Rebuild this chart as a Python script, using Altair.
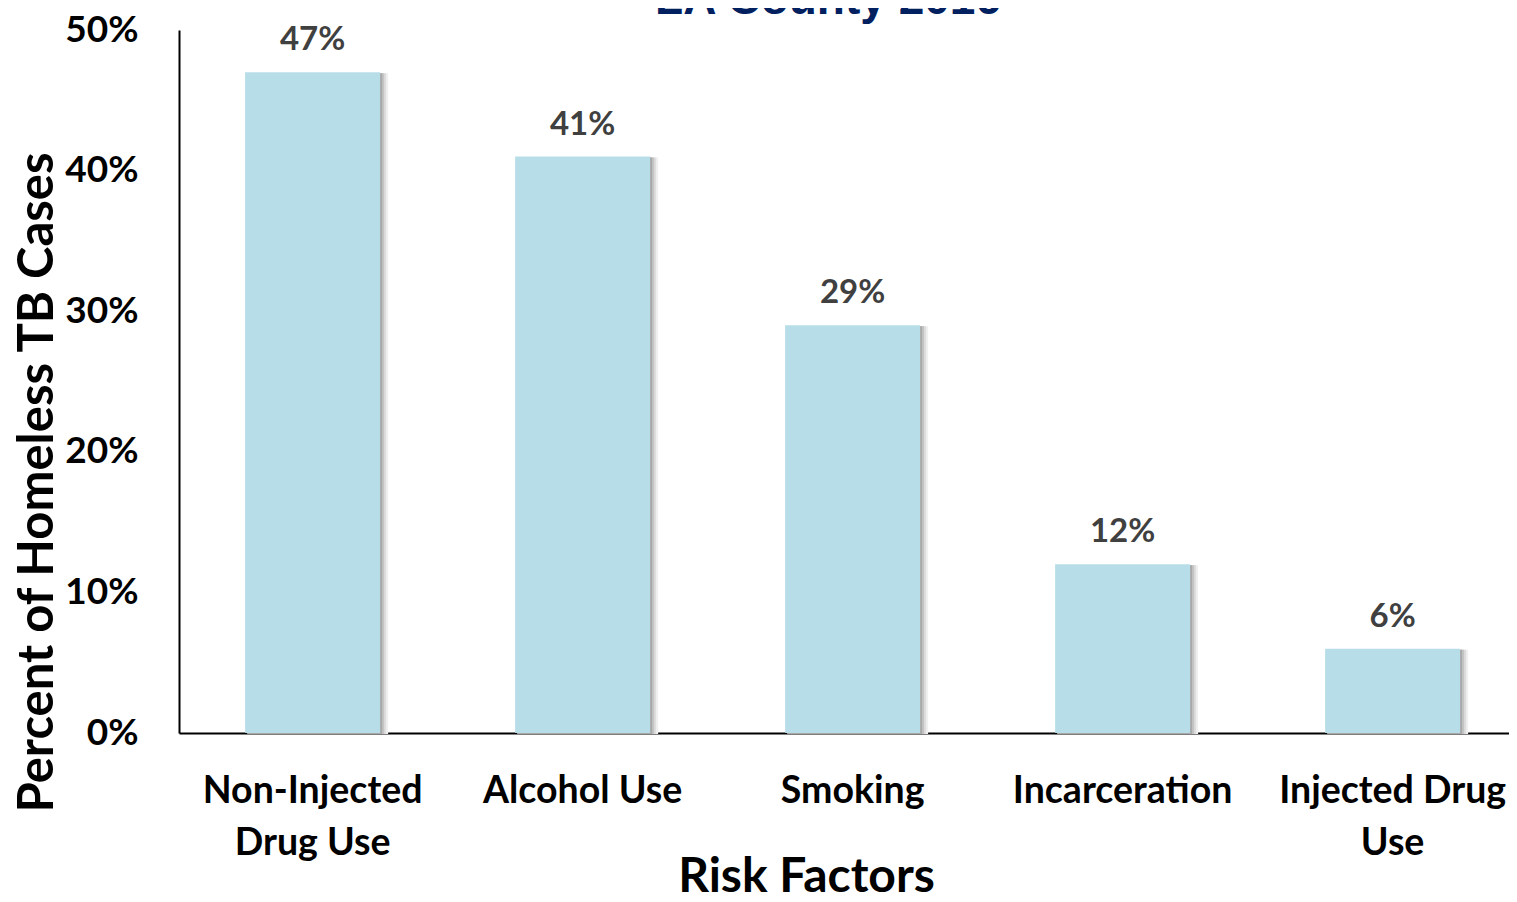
import altair as alt
import pandas as pd

categories = ["Non-Injected|Drug Use", "Alcohol Use", "Smoking", "Incarceration", "Injected Drug|Use"]
values = [0.47, 0.41, 0.29, 0.12, 0.06]
labels = ["47%", "41%", "29%", "12%", "6%"]
title_text = "LA County 2016"

df = pd.DataFrame({"cat": categories, "val": values, "lab": labels})

W, H = 1330, 703
FONT = "Lato"

x = alt.X("cat:N", sort=categories, title="Risk Factors",
          scale=alt.Scale(paddingInner=0.5, paddingOuter=0.213, align=0.575),
          axis=alt.Axis(labelExpr="split(datum.label, '|')", labelAngle=0,
                        labelFont=FONT, labelFontSize=37.5, labelFontWeight="bold",
                        labelColor="black", labelPadding=39, labelLineHeight=52,
                        labelBaseline="top", labelLimit=0,
                        ticks=False, domainColor="black", domainWidth=2,
                        titleFont=FONT, titleFontSize=48, titleFontWeight="bold",
                        titleColor="black", titleX=627, titleY=158,
                        titleAlign="center", titleBaseline="alphabetic"))
y = alt.Y("val:Q", title="Percent of Homeless TB Cases",
          scale=alt.Scale(domain=[0, 0.5], nice=False),
          axis=alt.Axis(values=[0, 0.1, 0.2, 0.3, 0.4, 0.5], format=".0%",
                        labelFont=FONT, labelFontSize=37, labelFontWeight="bold",
                        labelColor="black", labelPadding=41, grid=False, ticks=False,
                        domainColor="black", domainWidth=2,
                        titleFont=FONT, titleFontSize=49, titleFontWeight="bold",
                        titleColor="black", titleX=-142, titleY=452,
                        titleAngle=270, titleAlign="center", titleBaseline="middle"))

base = alt.Chart(df)
shadow_layers = []
for off, col in [(8, "#f0f0f0"), (6, "#dddddd"), (4, "#c4c4c4"), (2, "#a8a8a8")]:
    shadow_layers.append(base.mark_bar(color=col, xOffset=off, yOffset=1).encode(x=x, y=y))
bars = base.mark_bar(color="#B7DDE8").encode(x=x, y=y)
text = base.mark_text(font=FONT, fontSize=33, fontWeight="bold", color="#404040",
                      baseline="alphabetic", dy=-22).encode(x=x, y=y, text="lab:N")
title = alt.Chart(pd.DataFrame({"t": [title_text]})).mark_text(
    font="Liberation Sans", fontSize=46, fontWeight="bold", color="#002060",
    baseline="alphabetic", align="center").encode(
    x=alt.value(649), y=alt.value(-16), text="t:N")

chart = alt.layer(*shadow_layers, bars, text, title).properties(
    width=W, height=H,
    autosize=alt.AutoSizeParams(type="none"),
    padding={"left": 171, "top": 22, "right": 0, "bottom": 160},
).configure(background="white").configure_view(stroke=None)

chart.save("out.html", embed_options={"renderer": "svg", "actions": False})
